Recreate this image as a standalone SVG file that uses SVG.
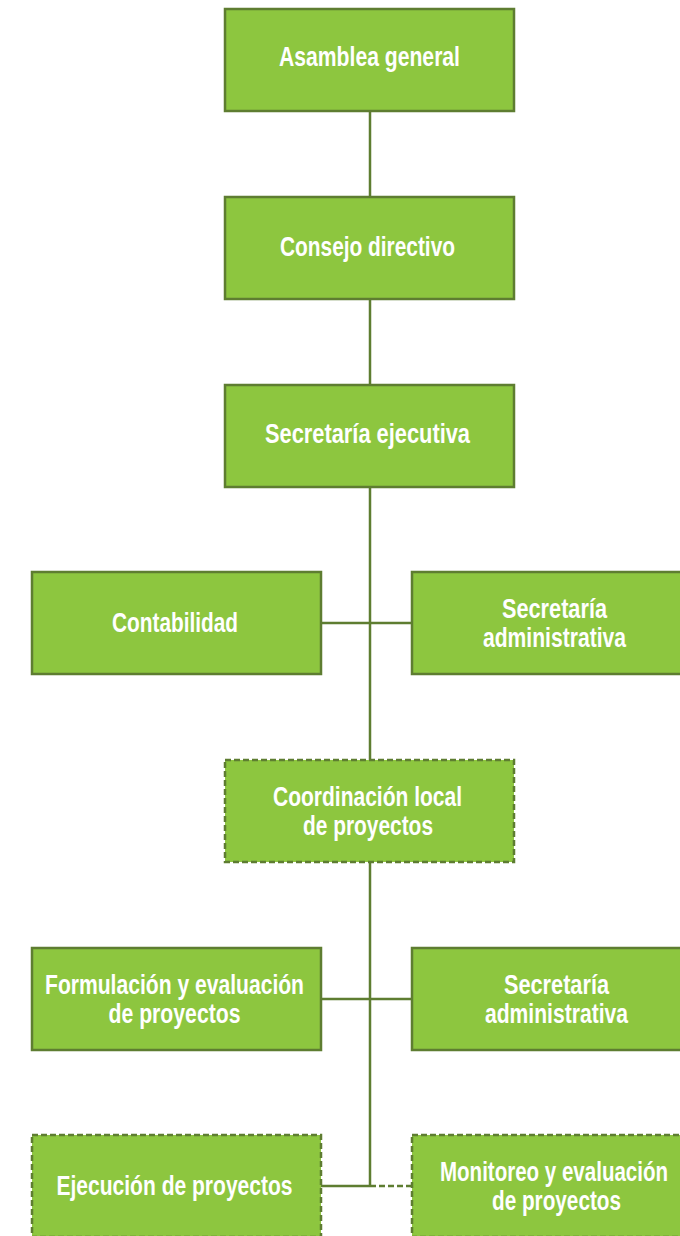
<svg xmlns="http://www.w3.org/2000/svg" width="680" height="1236" viewBox="0 0 680 1236">
<style>
.box{fill:#8dc63f;stroke:#5e7d31;stroke-width:2.5}
.dash{stroke-dasharray:6 3}
.ln{stroke:#5e7d31;stroke-width:2.5;fill:none}
text{font-family:"Liberation Sans",Arial,sans-serif;font-weight:bold;font-size:27px;fill:#ffffff;text-anchor:middle}
</style>
<rect width="680" height="1236" fill="#ffffff"/>
<g id="connectors">
<path class="ln" d="M370 111V197M370 299V385M370 487V760M321 623H412M370 862V1186M321 999H412M321 1186H370"/>
<path class="ln dash" d="M370 1186H412"/>
</g>
<g id="asamblea"><rect class="box" x="225" y="9" width="289" height="102"/><text x="369.5" y="66" textLength="181" lengthAdjust="spacingAndGlyphs">Asamblea general</text></g>
<g id="consejo"><rect class="box" x="225" y="197" width="289" height="102"/><text x="367.5" y="256" textLength="175" lengthAdjust="spacingAndGlyphs">Consejo directivo</text></g>
<g id="secretaria-ejecutiva"><rect class="box" x="225" y="385" width="289" height="102"/><text x="367.5" y="443" textLength="205" lengthAdjust="spacingAndGlyphs">Secretaría ejecutiva</text></g>
<g id="contabilidad"><rect class="box" x="32" y="572" width="289" height="102"/><text x="175" y="632" textLength="126" lengthAdjust="spacingAndGlyphs">Contabilidad</text></g>
<g id="secretaria-administrativa-1"><rect class="box" x="412" y="572" width="289" height="102"/><text x="554.5" y="618" textLength="105" lengthAdjust="spacingAndGlyphs">Secretaría</text><text x="554.5" y="647" textLength="143" lengthAdjust="spacingAndGlyphs">administrativa</text></g>
<g id="coordinacion"><rect class="box dash" x="225" y="760" width="289" height="102"/><text x="367.5" y="806" textLength="189" lengthAdjust="spacingAndGlyphs">Coordinación local</text><text x="368" y="835" textLength="130" lengthAdjust="spacingAndGlyphs">de proyectos</text></g>
<g id="formulacion"><rect class="box" x="32" y="948" width="289" height="102"/><text x="174.5" y="994" textLength="259" lengthAdjust="spacingAndGlyphs">Formulación y evaluación</text><text x="174.5" y="1023" textLength="132" lengthAdjust="spacingAndGlyphs">de proyectos</text></g>
<g id="secretaria-administrativa-2"><rect class="box" x="412" y="948" width="289" height="102"/><text x="556.5" y="994" textLength="105" lengthAdjust="spacingAndGlyphs">Secretaría</text><text x="556.5" y="1023" textLength="143" lengthAdjust="spacingAndGlyphs">administrativa</text></g>
<g id="ejecucion"><rect class="box dash" x="32" y="1135" width="289" height="102"/><text x="174.5" y="1195" textLength="236" lengthAdjust="spacingAndGlyphs">Ejecución de proyectos</text></g>
<g id="monitoreo"><rect class="box dash" x="412" y="1135" width="289" height="102"/><text x="554" y="1181" textLength="228" lengthAdjust="spacingAndGlyphs">Monitoreo y evaluación</text><text x="556.5" y="1210" textLength="129" lengthAdjust="spacingAndGlyphs">de proyectos</text></g>
</svg>
